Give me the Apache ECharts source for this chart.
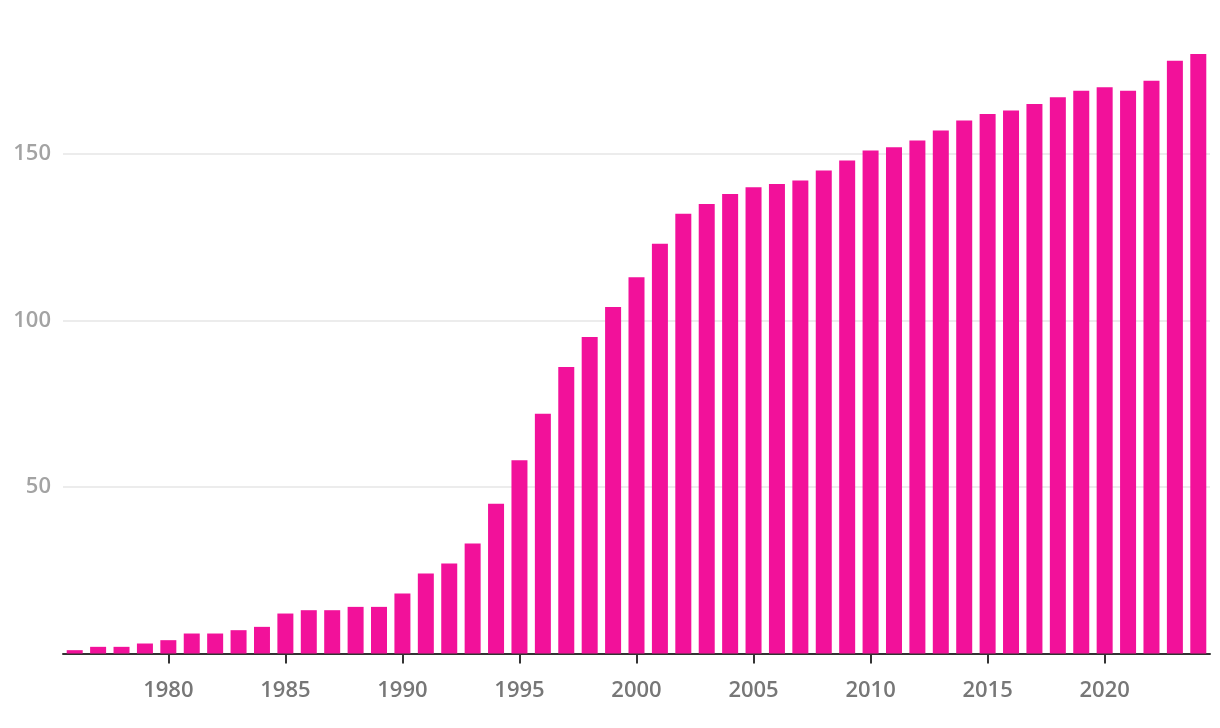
<!DOCTYPE html>
<html>
<head>
<meta charset="utf-8">
<script src="https://cdn.jsdelivr.net/npm/echarts@6/dist/echarts.min.js"></script>
<style>
html,body{margin:0;padding:0;background:#fff;}
#chart{width:1220px;height:728px;}
</style>
</head>
<body>
<div id="chart"></div>
<script>
const years = [];
for (let y = 1976; y <= 2024; y++) years.push(String(y));
const values = [
  1, 2, 2, 3, 4, 6, 6, 7, 8, 12,
  13, 13, 14, 14, 18, 24, 27, 33, 45, 58,
  72, 86, 95, 104, 113, 123, 132, 135, 138, 140,
  141, 142, 145, 148, 151, 152, 154, 157, 160, 162,
  163, 165, 167, 169, 170, 169, 172, 178, 180
];
const yTicks = [0, 50, 100, 150];

const chart = echarts.init(document.getElementById('chart'));
chart.setOption({
  animation: false,
  backgroundColor: '#ffffff',
  grid: { left: 63, right: 10, top: 54, bottom: 74.5, containLabel: false },
  xAxis: {
    type: 'category',
    data: years,
    boundaryGap: true,
    axisLine: { show: true, lineStyle: { color: '#333333', width: 2 } },
    axisTick: {
      show: true, alignWithLabel: true, length: 10,
      lineStyle: { color: '#333333', width: 2 },
      interval: (i, v) => Number(v) % 5 === 0
    },
    axisLabel: {
      interval: (i, v) => Number(v) % 5 === 0,
      color: '#777777', fontSize: 22, fontWeight: 600, fontFamily: 'Open Sans', margin: 26
    },
    splitLine: { show: false }
  },
  yAxis: {
    type: 'value',
    min: 0, max: 180, interval: 50,
    axisLine: { show: false },
    axisTick: { show: false },
    axisLabel: {
      color: '#a3a3a3', fontSize: 22, fontWeight: 600, fontFamily: 'Open Sans', margin: 12,
      showMaxLabel: false,
      formatter: v => (yTicks.includes(v) && v !== 0) ? String(v) : ''
    },
    splitLine: { show: true, showMaxLine: false, lineStyle: { color: '#e6e6e6', width: 1.5 } }
  },
  series: [{
    type: 'bar',
    data: values,
    barWidth: 16,
    itemStyle: { color: '#F2119A' }
  }]
});
</script>
</body>
</html>
